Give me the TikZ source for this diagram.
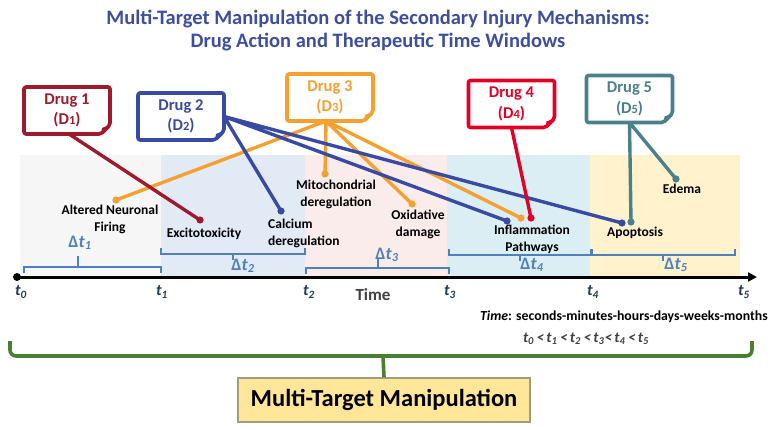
\documentclass[tikz,border=0pt]{standalone}
\usepackage{fontspec}
\setmainfont{Carlito}
\usetikzlibrary{arrows.meta,calc}
\definecolor{titleblue}{HTML}{3D4EA1}
\definecolor{cone}{HTML}{A01A2E}
\definecolor{ctwo}{HTML}{394AA4}
\definecolor{cthree}{HTML}{F5A030}
\definecolor{cfour}{HTML}{E20026}
\definecolor{cfive}{HTML}{4A7F8C}
\definecolor{brblue}{HTML}{4F81BD}
\definecolor{tnavy}{HTML}{1F3864}
\definecolor{bgreen}{HTML}{4A7F32}
\definecolor{boxfill}{HTML}{FFE699}
\definecolor{boxline}{HTML}{A09C80}
\definecolor{bandA}{HTML}{F6F6F6}
\definecolor{bandB}{HTML}{E2EAF5}
\definecolor{bandC}{HTML}{FBECEC}
\definecolor{bandD}{HTML}{DAEEF4}
\definecolor{bandE}{HTML}{FFF2CC}
\definecolor{greytxt}{HTML}{404040}
\newcommand{\notebox}[2]{%
  \draw[#2, line width=3.6pt, line join=round, rounded corners=2pt]
    (#1.north west) -- (#1.north east) -- ([yshift=9pt]#1.south east) -- ([xshift=-9pt]#1.south east) -- (#1.south west) -- cycle;
  \fill[#2] ([xshift=-9pt]#1.south east) -- ([xshift=-8pt,yshift=6pt]#1.south east) -- ([xshift=-3pt,yshift=8pt]#1.south east) -- ([yshift=9pt]#1.south east) -- cycle;
}
\tikzset{
  drugbox/.style={minimum width=86pt, minimum height=47pt, inner sep=0pt, outer sep=0pt, align=center,
    font=\fontsize{16.5}{20.5}\selectfont\bfseries},
  mech/.style={font=\fontsize{13.5}{17}\selectfont\bfseries, align=center, inner sep=0pt, text=black},
  conn/.style={line width=3.4pt},
  dot/.style={radius=3.6pt},
  brk/.style={brblue, line width=2.2pt},
  dlab/.style={text=brblue, font=\fontsize{17.5}{17.5}\selectfont\bfseries, inner sep=0pt},
  tlab/.style={text=tnavy, font=\fontsize{16}{16}\selectfont\bfseries\itshape, inner sep=0pt},
}
\newcommand{\dt}[1]{Δ\textit{t}\textsubscript{\textit{#1}}}
\newcommand{\dsub}[1]{{\fontsize{12.5}{12.5}\selectfont #1}}
\begin{document}
\begin{tikzpicture}[x=1pt,y=-1pt]
\useasboundingbox (0,0) rectangle (770,430);
% title
\node[text=titleblue, font=\fontsize{20.5}{23}\selectfont\bfseries, align=center] (title) at (378,31)
  {Multi-Target Manipulation of the Secondary Injury Mechanisms:\\Drug Action and Therapeutic Time Windows};
% bands
\fill[bandA] (20,155) rectangle (161,277);
\fill[bandB] (161,155) rectangle (305,277);
\fill[bandC] (305,155) rectangle (447,277);
\fill[bandD] (447,155) rectangle (590,277);
\fill[bandE] (590,155) rectangle (740,277);
% drug boxes
\node[drugbox, text=cone] (d1) at (67,110.5) {Drug 1\\(D\dsub{1})};
\node[drugbox, text=ctwo] (d2) at (181,116.5) {Drug 2\\(D\dsub{2})};
\node[drugbox, text=cthree] (d3) at (330,97.5) {Drug 3\\(D\dsub{3})};
\node[drugbox, text=cfour] (d4) at (511.5,104) {Drug 4\\(D\dsub{4})};
\node[drugbox, text=cfive] (d5) at (629.5,99) {Drug 5\\(D\dsub{5})};
\notebox{d1}{cone}
\notebox{d2}{ctwo}
\notebox{d3}{cthree}
\notebox{d4}{cfour}
\notebox{d5}{cfive}
% mechanism labels
\node[mech] (alt) at (110,219) {Altered Neuronal\\Firing};
\node[mech] (exc) at (204,234) {Excitotoxicity};
\node[mech, align=left, anchor=west] (cal) at (268,233) {Calcium\\deregulation};
\node[mech] (mit) at (336,194) {Mitochondrial\\deregulation};
\node[mech] (oxi) at (418,224) {Oxidative\\damage};
\node[mech] (inf) at (532,239) {Inflammation\\Pathways};
\node[mech] (apo) at (635,233) {Apoptosis};
\node[mech] (ede) at (682,189) {Edema};
% connector end points
\coordinate (pAlt) at (116,200);
\coordinate (pMit) at (325,174);
\coordinate (pOx) at (412,204);
\coordinate (pInfO) at (521,218);
\coordinate (pExc) at (200,220);
\coordinate (pCal) at (281,211);
\coordinate (pInfB) at (507,221);
\coordinate (pApoB) at (622,223);
\coordinate (pInfR) at (531,218);
\coordinate (pApoT) at (631,222);
\coordinate (pEd) at (676,179);
\coordinate (o3) at ([xshift=-4pt]d3.south);
% drug 3 (orange)
\draw[conn, cthree] (o3) -- (pAlt) (o3) -- (pMit) (o3) -- (pOx) (o3) -- (pInfO);
\fill[cthree] (pAlt) circle[dot] (pMit) circle[dot] (pOx) circle[dot] (pInfO) circle[dot];
% drug 2 (blue)
\draw[conn, ctwo] (d2.east) -- (pCal) (d2.east) -- (pInfB) (d2.east) -- (pApoB);
\fill[ctwo] (pCal) circle[dot] (pInfB) circle[dot] (pApoB) circle[dot];
% drug 1
\draw[conn, cone] ([xshift=2pt]d1.south) -- (pExc);
\fill[cone] (pExc) circle[dot];
% drug 4
\draw[conn, cfour] (d4.south) -- (pInfR);
\fill[cfour] (pInfR) circle[dot];
% drug 5
\draw[conn, cfive] (d5.south) -- (pApoT) (d5.south) -- (pEd);
\fill[cfive] (pApoT) circle[dot] (pEd) circle[dot];
% brackets
\draw[brk] (24,273) -- (24,267) -- (161,267) -- (161,273) (78,267) -- (78,256);
\node[dlab] (dt1) at (80,243) {\dt{1}};
\draw[brk] (161,248) -- (161,254) -- (305,254) -- (305,248) (233,254) -- (233,260);
\node[dlab] (dt2) at (243,266) {\dt{2}};
\draw[brk] (306,274) -- (306,268) -- (449,268) -- (449,274) (378,268) -- (378,259);
\node[dlab] (dt3) at (387,255) {\dt{3}};
\draw[brk] (449,249) -- (449,255) -- (591,255) -- (591,249) (520,255) -- (520,261);
\node[dlab] (dt4) at (532,265) {\dt{4}};
\draw[brk] (592,249) -- (592,255) -- (735,255) -- (735,249) (663,255) -- (663,261);
\node[dlab] (dt5) at (676,265) {\dt{5}};
% time axis
\coordinate (ax0) at (17,277);
\coordinate (ax1) at (757,277);
\draw[line width=3pt, -{Triangle[length=9pt,width=9pt]}] (ax0) -- (ax1);
\fill (ax0) circle[radius=4pt];
\node[tlab] (t0) at (21,292) {t\textsubscript{0}};
\node[tlab] (t1) at (162,292) {t\textsubscript{1}};
\node[tlab] (t2) at (309,292) {t\textsubscript{2}};
\node[tlab] (t3) at (450,292) {t\textsubscript{3}};
\node[tlab] (t4) at (593,292) {t\textsubscript{4}};
\node[tlab] (t5) at (744,292) {t\textsubscript{5}};
\node[text=greytxt, font=\fontsize{17}{17}\selectfont\bfseries] (time) at (373,295) {Time};
% footnote
\node[anchor=east, font=\fontsize{13.8}{14}\selectfont\bfseries, inner sep=0pt] (note) at (768,317)
  {\textit{Time}: seconds-minutes-hours-days-weeks-months};
\node[text=greytxt, font=\fontsize{15}{15}\selectfont\bfseries\itshape, inner sep=0pt] (order) at (586,339)
  {t\textsubscript{0}\,<\,t\textsubscript{1}\,<\,t\textsubscript{2}\,<\,t\textsubscript{3}<\,t\textsubscript{4}\,<\,t\textsubscript{5}};
% bottom box and brace
\node[fill=boxfill, draw=boxline, line width=1.8pt, minimum width=292pt, minimum height=44pt,
  font=\fontsize{24.5}{25}\selectfont\bfseries] (mtm) at (384,400) {Multi-Target Manipulation};
\draw[bgreen, line width=3.6pt, rounded corners=6pt] (10,341) -- (10,356) -- (752,356) -- (752,341);
\draw[bgreen, line width=3.6pt] (383,356) -- (mtm.north);
\end{tikzpicture}
\end{document}
